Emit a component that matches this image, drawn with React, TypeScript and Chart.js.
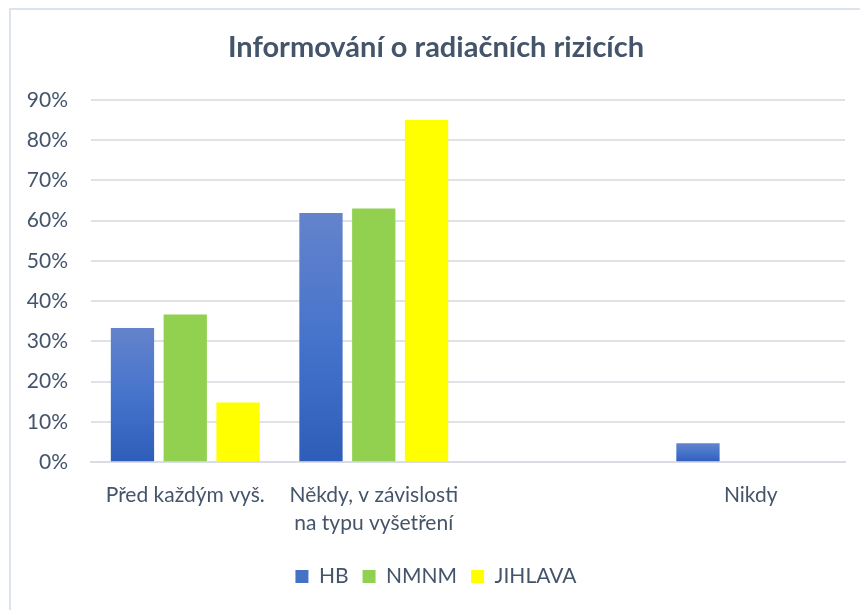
import React, { useEffect, useRef } from "react";
import { Chart, registerables } from "chart.js";

Chart.register(...registerables);

const TITLE = "Informování o radiačních rizicích";
const CATEGORIES: (string | string[])[] = [
  "Před každým vyš.",
  ["Někdy, v závislosti", "na typu vyšetření"],
  "",
  "Nikdy",
];
const HB = [33.3, 61.9, null, 4.7];
const NMNM = [36.7, 63.0, null, null];
const JIHLAVA = [14.8, 85.0, null, null];
const Y_TICKS_MAX = 90;
const Y_STEP = 10;

const TEXT = "#44546a";
const FONT = "Lato, 'Open Sans', sans-serif";

export default function App() {
  const ref = useRef<HTMLCanvasElement | null>(null);

  useEffect(() => {
    if (!ref.current) return;
    const hbFill = (ctx: any) => {
      const chart = ctx.chart;
      const y = chart.scales?.y;
      if (!y || ctx.type !== "data") return "#4472c4";
      const v = ctx.raw;
      if (v == null) return "#4472c4";
      const top = y.getPixelForValue(v);
      const base = y.getPixelForValue(0);
      if (!isFinite(top) || !isFinite(base) || top === base) return "#4472c4";
      const g = chart.ctx.createLinearGradient(0, top, 0, base);
      g.addColorStop(0, "#6483cc");
      g.addColorStop(0.5, "#4674cc");
      g.addColorStop(1, "#2e5db9");
      return g;
    };
    const chart = new Chart(ref.current, {
      type: "bar",
      data: {
        labels: CATEGORIES,
        datasets: [
          { label: "HB", data: HB, backgroundColor: hbFill },
          { label: "NMNM", data: NMNM, backgroundColor: "#92d050" },
          { label: "JIHLAVA", data: JIHLAVA, backgroundColor: "#ffff00" },
        ],
      },
      options: {
        animation: false,
        responsive: false,
        maintainAspectRatio: false,
        datasets: { bar: { categoryPercentage: 0.84, barPercentage: 0.82 } },
        layout: { padding: { left: 16, right: 15, top: 0, bottom: 13 } },
        plugins: {
          title: {
            display: true,
            text: TITLE,
            color: TEXT,
            font: { family: FONT, size: 29, weight: "bold" },
            padding: { top: 20, bottom: 35 },
          },
          legend: {
            position: "bottom",
            labels: {
              color: TEXT,
              font: { family: FONT, size: 21 },
              boxWidth: 13,
              boxHeight: 13,
              padding: 14,
              generateLabels: (chart: any) =>
                chart.data.datasets.map((d: any, i: number) => ({
                  text: d.label,
                  fillStyle: i === 0 ? "#4472c4" : d.backgroundColor,
                  strokeStyle: "rgba(0,0,0,0)",
                  lineWidth: 0,
                  fontColor: TEXT,
                  datasetIndex: i,
                  hidden: false,
                })),
            },
          },
          tooltip: { enabled: false },
        },
        scales: {
          x: {
            grid: { display: false },
            border: { display: true, color: "#d9dde3", width: 2 },
            afterFit: (scale: any) => {
              scale.height += 4;
            },
            ticks: {
              color: TEXT,
              font: { family: FONT, size: 21, lineHeight: 1.33 },
              padding: 11,
              maxRotation: 0,
              autoSkip: false,
            },
          },
          y: {
            min: 0,
            max: Y_TICKS_MAX,
            grid: { color: "#dfe3e8", lineWidth: 2, drawTicks: false },
            border: { display: false },
            afterFit: (scale: any) => {
              scale.width = 64;
            },
            ticks: {
              stepSize: Y_STEP,
              color: TEXT,
              font: { family: FONT, size: 21 },
              padding: 23,
              callback: (v: any) => v + "%",
            },
          },
        },
      },
    });
    return () => chart.destroy();
  }, []);

  return (
    <div
      style={{
        position: "absolute",
        left: 9,
        top: 8,
        width: 851,
        height: 602,
        borderLeft: "2px solid #dde3ea",
        borderTop: "2px solid #dde3ea",
        background: "#fff",
      }}
    >
      <canvas ref={ref} width={849} height={600} style={{ display: "block" }} />
    </div>
  );
}
